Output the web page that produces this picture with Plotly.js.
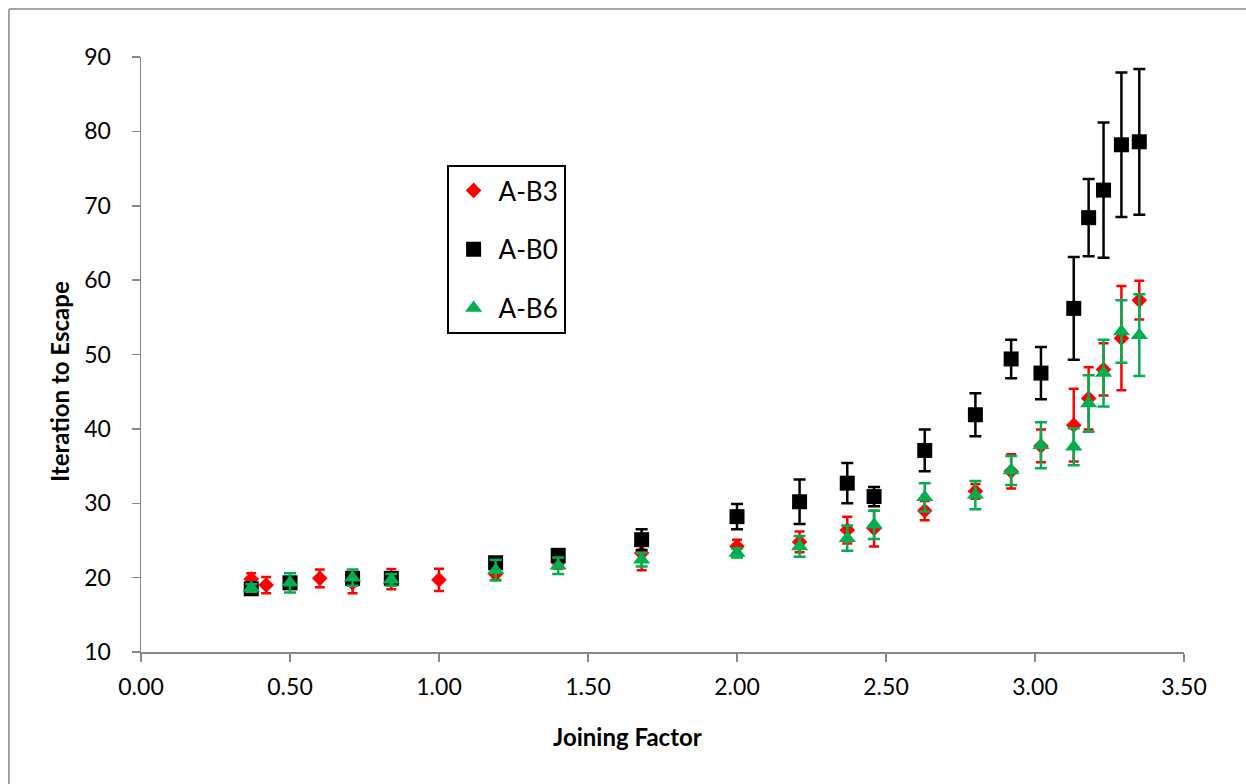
<!DOCTYPE html>
<html>
<head>
<meta charset="utf-8">
<script src="https://cdn.plot.ly/plotly-3.0.1.min.js"></script>
<style>html,body{margin:0;padding:0;background:#fff;}#chart{width:1246px;height:784px;}</style>
</head>
<body>
<div id="chart"></div>
<script>
// A-B3 (red diamonds)
const xB3 = [0.37,0.42,0.60,0.71,0.84,1.00,1.19,1.40,1.68,2.00,2.21,2.37,2.46,2.63,2.80,2.92,3.02,3.13,3.18,3.23,3.29,3.35];
const yB3 = [19.8,19.0,19.9,19.3,19.8,19.7,20.5,22.0,23.3,24.2,24.8,26.4,26.6,29.0,31.6,34.3,37.7,40.5,44.1,48.0,52.2,57.3];
const eB3 = [0.8,1.1,1.2,1.4,1.35,1.5,0.8,0.8,2.3,0.9,1.4,1.8,2.4,1.3,1.0,2.3,2.2,4.9,4.2,3.5,7.0,2.6];
// A-B0 (black squares)
const xB0 = [0.37,0.50,0.71,0.84,1.19,1.40,1.68,2.00,2.21,2.37,2.46,2.63,2.80,2.92,3.02,3.13,3.18,3.23,3.29,3.35];
const yB0 = [18.5,19.3,19.9,19.9,22.0,23.0,25.1,28.2,30.2,32.7,30.9,37.1,41.9,49.4,47.5,56.2,68.4,72.1,78.2,78.6];
const eB0 = [0.5,0.5,0.5,0.5,0.6,0.6,1.4,1.7,3.0,2.7,1.3,2.8,2.9,2.6,3.5,6.9,5.2,9.1,9.7,9.8];
// A-B6 (green triangles)
const xB6 = [0.37,0.50,0.71,0.84,1.19,1.40,1.68,2.00,2.21,2.37,2.46,2.63,2.80,2.92,3.02,3.13,3.18,3.23,3.29,3.35];
const yB6 = [18.6,19.3,20.0,19.7,21.0,21.6,22.4,23.3,24.2,25.3,27.1,30.8,31.1,34.4,37.8,37.6,43.4,47.5,53.1,52.6];
const eB6 = [0.5,1.3,1.1,0.8,1.4,1.1,0.9,0.6,1.4,1.7,1.9,1.9,1.9,1.95,3.1,2.5,3.8,4.5,4.2,5.5];

const names = ['A-B3','A-B0','A-B6'];
const xTitle = 'Joining Factor';
const yTitle = 'Iteration to Escape';
const FONT = 'Lato, "Open Sans", sans-serif';

function tr(x, y, e, name, color, symbol, size, cap) {
  return {
    x: x, y: y, name: name, type: 'scatter', mode: 'markers',
    legendgroup: name,
    marker: {color: color, symbol: symbol, size: size, line: {width: 0}},
    error_y: {type: 'data', array: e, visible: true, color: color, thickness: 2.5, width: cap},
    cliponaxis: false
  };
}

const data = [
  tr(xB3, yB3, eB3, names[0], '#FF0000', 'diamond', 12, 5),
  tr(xB0, yB0, eB0, names[1], '#000000', 'square', 15, 6),
  tr(xB6, yB6, eB6, names[2], '#00B050', 'triangle-up', 15, 6)
];

const axisCommon = {
  showgrid: false, zeroline: false, showline: true,
  linecolor: '#868686', linewidth: 1.5,
  ticks: 'outside', ticklen: 8, tickwidth: 1.5, tickcolor: '#868686',
  tickfont: {family: FONT, size: 23, color: '#000'}
};

const titleFont = {family: FONT, size: 24, color: '#000', weight: 'bold'};

const layout = {
  width: 1246, height: 784,
  paper_bgcolor: '#fff', plot_bgcolor: '#fff',
  margin: {l: 141, r: 62, t: 57, b: 132},
  showlegend: true,
  legend: {
    x: 0.293, y: 0.8185, xanchor: 'left', yanchor: 'top',
    bordercolor: '#000', borderwidth: 2, bgcolor: '#fff',
    font: {family: FONT, size: 26, color: '#000'},
    traceorder: 'grouped', tracegroupgap: 22, itemwidth: 40
  },
  xaxis: Object.assign({}, axisCommon, {
    range: [0, 3.5], dtick: 0.5, tick0: 0, tickformat: '.2f',
    ticklabelstandoff: 6
  }),
  yaxis: Object.assign({}, axisCommon, {
    range: [10, 90], dtick: 10, tick0: 10,
    ticklabelstandoff: 16
  }),
  annotations: [
    {text: xTitle, xref: 'paper', yref: 'paper', x: 0.466, y: -0.1412, xanchor: 'center', yanchor: 'middle', showarrow: false, font: titleFont},
    {text: yTitle, xref: 'paper', yref: 'paper', x: -0.0777, y: 0.4555, xanchor: 'center', yanchor: 'middle', showarrow: false, textangle: -90, font: titleFont}
  ],
  shapes: [
    {type: 'line', xref: 'paper', yref: 'paper', x0: -0.1266, x1: -0.1266, y0: -0.3, y1: 1.0807, line: {color: '#868686', width: 1.5}},
    {type: 'line', xref: 'paper', yref: 'paper', x0: -0.1266, x1: 1.2, y0: 1.0807, y1: 1.0807, line: {color: '#868686', width: 1.5}}
  ]
};

Plotly.newPlot('chart', data, layout, {displayModeBar: false, staticPlot: true});
</script>
</body>
</html>
